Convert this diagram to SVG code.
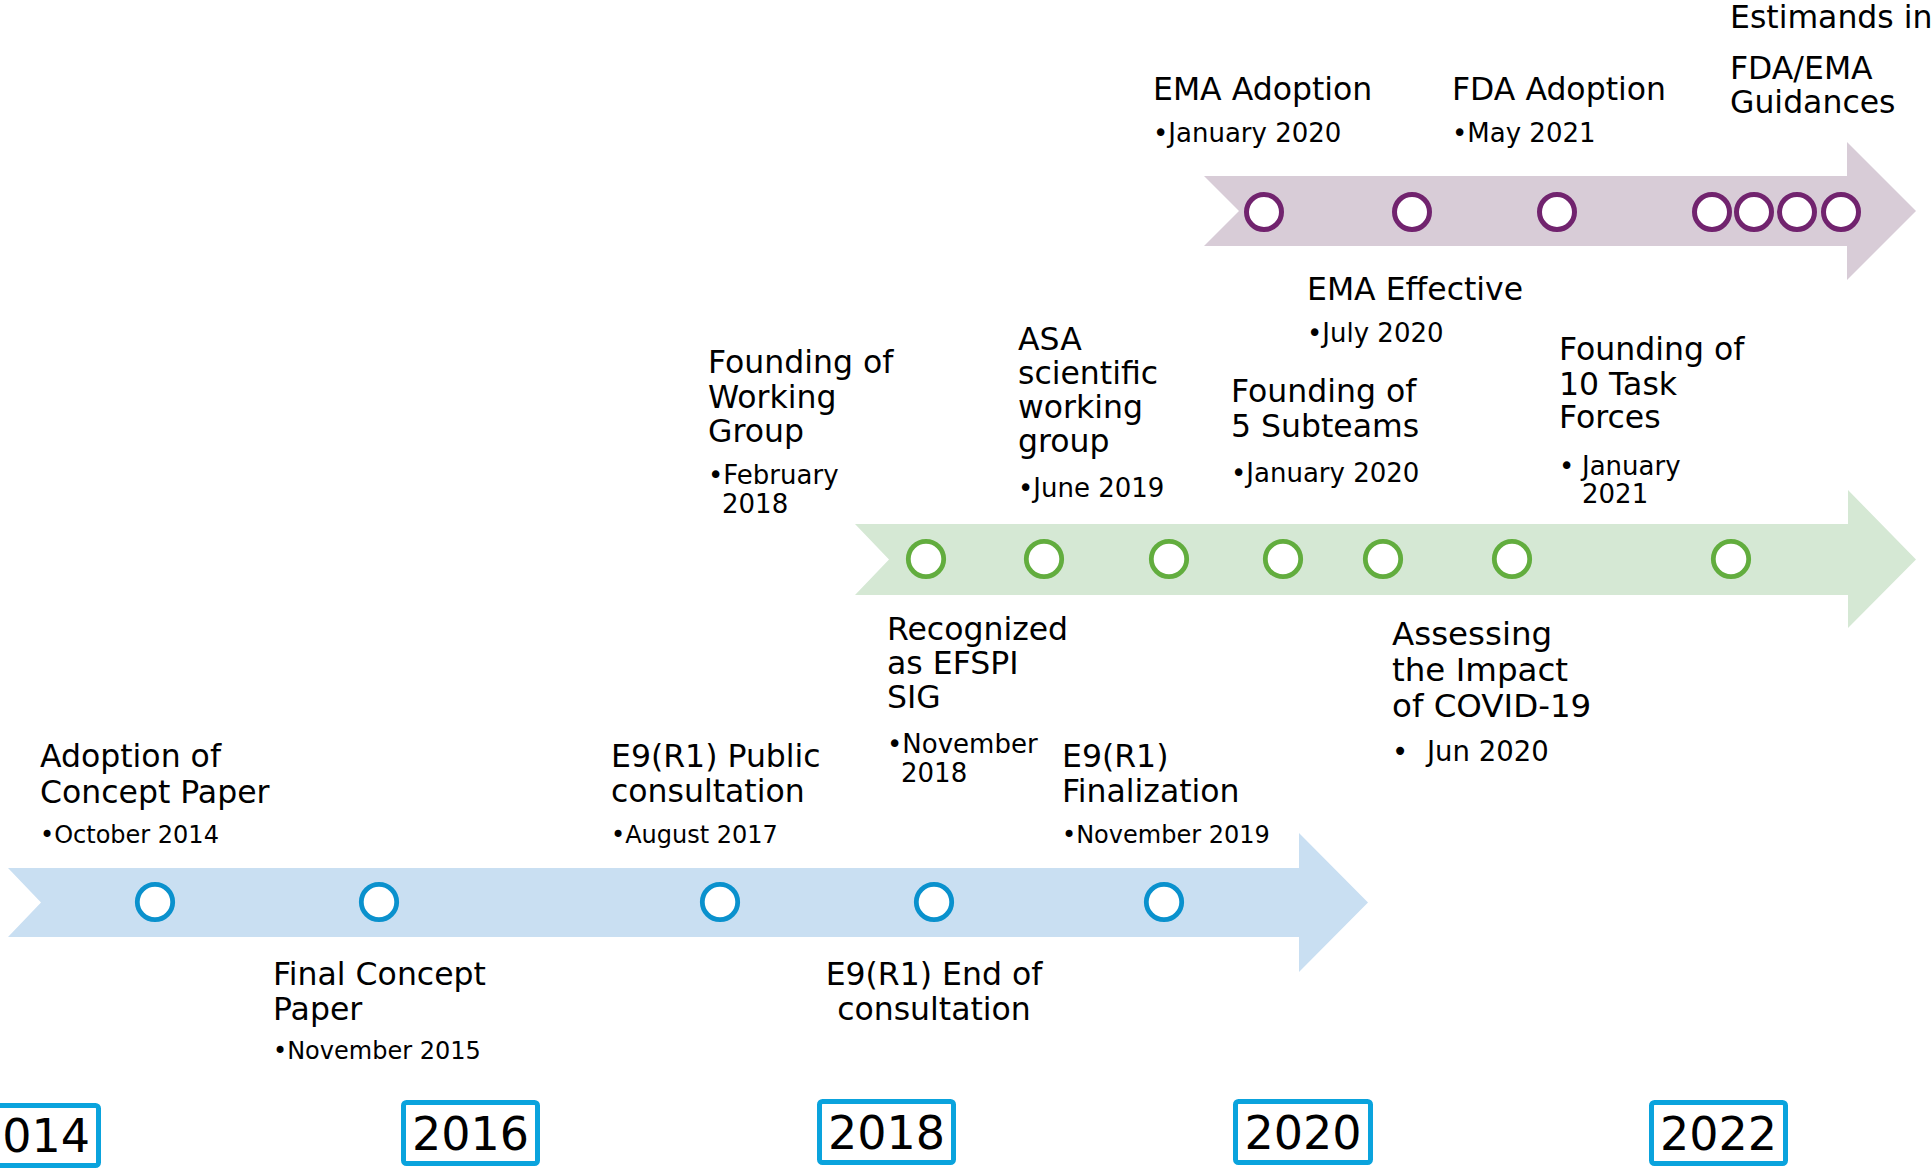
<svg xmlns="http://www.w3.org/2000/svg" width="1931" height="1168" viewBox="0 0 1931 1168">
<style>
text{font-family:"DejaVu Sans","Verdana","Liberation Sans",sans-serif;fill:#000}
.t{font-size:31.5px}
.d{font-size:24px}
.g{font-size:26px}
.y{font-size:46px}
.bluec{fill:#fff;stroke:#0a91cd;stroke-width:4.8}
.greenc{fill:#fff;stroke:#62ad3e;stroke-width:4.8}
.purc{fill:#fff;stroke:#71236e;stroke-width:5}
.box{fill:#fff;stroke:#0aa3dd;stroke-width:5}
</style>
<rect width="1931" height="1168" fill="#fff"/>
<g id="connectors">
<polygon id="band-blue" points="8,868 1299,868 1299,833 1368,902.5 1299,972 1299,937 8,937 41,902.5" fill="#c9dff2"/>
<polygon id="band-green" points="855,524 1848,524 1848,490 1916,559.5 1848,628 1848,595 855,595 889,559.5" fill="#d5e8d4"/>
<polygon id="band-purple" points="1204,176 1847,176 1847,142 1916,211 1847,280 1847,246 1204,246 1239,211" fill="#d8ccd7"/>
</g>
<g id="markers-blue">
<circle class="bluec" cx="155" cy="902" r="17.7"/>
<circle class="bluec" cx="379" cy="902" r="17.7"/>
<circle class="bluec" cx="720" cy="902" r="17.7"/>
<circle class="bluec" cx="934" cy="902" r="17.7"/>
<circle class="bluec" cx="1164" cy="902" r="17.7"/>
</g>
<g id="markers-green">
<circle class="greenc" cx="926" cy="559" r="17.7"/>
<circle class="greenc" cx="1044" cy="559" r="17.7"/>
<circle class="greenc" cx="1169" cy="559" r="17.7"/>
<circle class="greenc" cx="1283" cy="559" r="17.7"/>
<circle class="greenc" cx="1383" cy="559" r="17.7"/>
<circle class="greenc" cx="1512" cy="559" r="17.7"/>
<circle class="greenc" cx="1731" cy="559" r="17.7"/>
</g>
<g id="markers-purple">
<circle class="purc" cx="1264" cy="212" r="17.5"/>
<circle class="purc" cx="1412" cy="212" r="17.5"/>
<circle class="purc" cx="1557" cy="212" r="17.5"/>
<circle class="purc" cx="1712" cy="212" r="17.5"/>
<circle class="purc" cx="1754" cy="212" r="17.5"/>
<circle class="purc" cx="1797" cy="212" r="17.5"/>
<circle class="purc" cx="1841" cy="212" r="17.5"/>
</g>
<g id="ev-adoption-concept">
<text class="t" x="40" y="767">Adoption of</text>
<text class="t" x="40" y="803">Concept Paper</text>
<text class="d" x="40" y="843">•October 2014</text>
</g>
<g id="ev-final-concept">
<text class="t" x="273" y="985">Final Concept</text>
<text class="t" x="273" y="1020">Paper</text>
<text class="d" x="273" y="1059">•November 2015</text>
</g>
<g id="ev-e9-public">
<text class="t" x="611" y="767">E9(R1) Public</text>
<text class="t" x="611" y="802">consultation</text>
<text class="d" x="611" y="843">•August 2017</text>
</g>
<g id="ev-e9-end">
<text class="t" x="934" y="985" text-anchor="middle">E9(R1) End of</text>
<text class="t" x="934" y="1020" text-anchor="middle">consultation</text>
</g>
<g id="ev-e9-final">
<text class="t" x="1062" y="767">E9(R1)</text>
<text class="t" x="1062" y="802">Finalization</text>
<text class="d" x="1062" y="843">•November 2019</text>
</g>
<g id="ev-founding-wg">
<text class="t" x="708" y="373">Founding of</text>
<text class="t" x="708" y="408">Working</text>
<text class="t" x="708" y="442">Group</text>
<text class="g" x="708" y="484">•February</text>
<text class="g" x="722" y="513">2018</text>
</g>
<g id="ev-efspi">
<text class="t" x="887" y="640">Recognized</text>
<text class="t" x="887" y="674">as EFSPI</text>
<text class="t" x="887" y="708">SIG</text>
<text class="g" x="887" y="753">•November</text>
<text class="g" x="901" y="782">2018</text>
</g>
<g id="ev-asa">
<text class="t" x="1018" y="350">ASA</text>
<text class="t" x="1018" y="384">scientific</text>
<text class="t" x="1018" y="418">working</text>
<text class="t" x="1018" y="452">group</text>
<text class="g" x="1018" y="497">•June 2019</text>
</g>
<g id="ev-subteams">
<text class="t" x="1231" y="402">Founding of</text>
<text class="t" x="1231" y="437">5 Subteams</text>
<text class="g" x="1231" y="482">•January 2020</text>
</g>
<g id="ev-covid">
<text class="t" x="1392" y="645" style="font-size:32.5px">Assessing</text>
<text class="t" x="1392" y="681" style="font-size:32.5px">the Impact</text>
<text class="t" x="1392" y="717" style="font-size:32.5px">of COVID-19</text>
<text class="g" x="1392" y="761" style="font-size:27.5px">•</text>
<text class="g" x="1427" y="761" style="font-size:27.5px">Jun 2020</text>
</g>
<g id="ev-taskforces">
<text class="t" x="1559" y="360">Founding of</text>
<text class="t" x="1559" y="395">10 Task</text>
<text class="t" x="1559" y="428">Forces</text>
<text class="g" x="1559" y="475">•</text>
<text class="g" x="1582" y="475">January</text>
<text class="g" x="1582" y="503">2021</text>
</g>
<g id="ev-ema-adoption">
<text class="t" x="1153" y="100">EMA Adoption</text>
<text class="g" x="1153" y="142">•January 2020</text>
</g>
<g id="ev-ema-effective">
<text class="t" x="1307" y="300">EMA Effective</text>
<text class="g" x="1307" y="342">•July 2020</text>
</g>
<g id="ev-fda-adoption">
<text class="t" x="1452" y="100">FDA Adoption</text>
<text class="g" x="1452" y="142">•May 2021</text>
</g>
<g id="ev-guidances">
<text class="t" x="1730" y="28">Estimands in</text>
<text class="t" x="1730" y="79">FDA/EMA</text>
<text class="t" x="1730" y="113">Guidances</text>
</g>
<g id="year-2014">
<rect class="box" x="-35.5" y="1105.5" width="134" height="60" rx="3"/>
<text class="y" x="31.5" y="1152" text-anchor="middle">2014</text>
</g>
<g id="year-2016">
<rect class="box" x="403.5" y="1102.5" width="134" height="61" rx="3"/>
<text class="y" x="470.5" y="1150" text-anchor="middle">2016</text>
</g>
<g id="year-2018">
<rect class="box" x="819.5" y="1101.5" width="134" height="61" rx="3"/>
<text class="y" x="886.5" y="1149" text-anchor="middle">2018</text>
</g>
<g id="year-2020">
<rect class="box" x="1235.5" y="1101.5" width="135" height="61" rx="3"/>
<text class="y" x="1303" y="1149" text-anchor="middle">2020</text>
</g>
<g id="year-2022">
<rect class="box" x="1651.5" y="1102.5" width="134" height="61" rx="3"/>
<text class="y" x="1718.5" y="1150" text-anchor="middle">2022</text>
</g>
</svg>
